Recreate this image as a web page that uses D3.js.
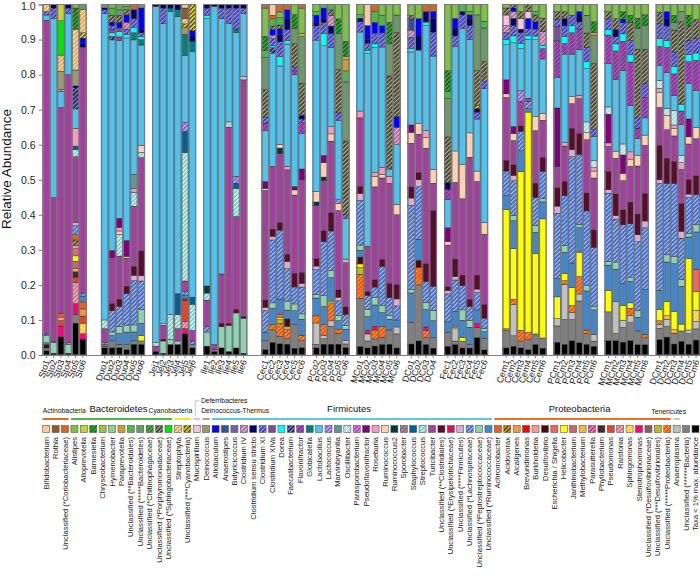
<!DOCTYPE html>
<html><head><meta charset="utf-8">
<script src="https://cdn.jsdelivr.net/npm/d3@7"></script>
<style>body{margin:0;background:#fff}svg{display:block}text{font-family:"Liberation Sans",Arial,sans-serif}</style>
</head><body><svg id="c" width="700" height="576"></svg>
<script>
const taxaKeys = ["Bif","Rot","Cor","Ali","Apr","Bar","Chr","Hym","Ppr","uBd","uBt","uCh","uPo","uSp","Stp","uCy","Muc","Dei","Alb","Ans","But","C4","Css","C11","C14","Dor","Fae","Fla","Glo","Lb","Lc","Mar","Osc","Psp","Pfl","Ros","Rum","Ru2","Spo","Sta","Stc","Tur","uCl","uEr","uFi","uLa","uPe","uRu","Ach","Acv","Alc","Bre","Bur","Des","Esc","Hel","Jan","Met","Pas","Phy","Pse","Ral","Sph","Ste","uDv","uDl","uPr","Ana","uBa","Oth"];
const taxaNames = ["Bifidobacterium","Rothia","Unclassified (*Coriobacteriaceae)","Alistipes","Alloprevotella","Barnesiella","Chryseobacterium","Hymenobacter","Paraprevotella","Unclassified (**Bacteroidales)","Unclassified (*****Bacteroidetes)","Unclassified (*Chitinophagaceae)","Unclassified (*Porphyromonadaceae)","Unclassified (*Sphingobacteriaceae)","Streptophyta","Unclassified (***Cyanobacteria)","Mucispirillum","Deinococcus","Allobaculum","Anaerostipes","Butyricicoccus","Clostridium IV","Clostridium sensu stricto","Clostridium XI","Clostridium XIVa","Dorea","Faecalibacterium","Flavonifractor","Globicatella","Lactobacillus","Lactococcus","Marvinbryantia","Oscillibacter","Parasporobacterium","Pseudoflavonifractor","Roseburia","Ruminococcus","Ruminococcus2","Sporobacter","Staphylococcus","Streptococcus","Turicibacter","Unclassified (**Clostridiales)","Unclassified (*Erysipelotrichaceae)","Unclassified (****Firmicutes)","Unclassified (*Lachnospiraceae)","Unclassified (*Peptostreptococcaceae)","Unclassified (*Ruminococcaceae)","Achromobacter","Acidovorax","Alcaligenes","Brevundimonas","Burkholderia","Desulfovibrio","Escherichia / Shigella","Helicobacter","Janthinobacterium","Methylobacterium","Parasutterella","Phyllobacterium","Pseudomonas","Ralstonia","Sphingomonas","Stenotrophomonas","Unclassified (*Desulfovibrionaceae)","Unclassified (***Desulfovibrionales)","Unclassified (*****Proteobacteria)","Anaeroplasma","Unclassified (******Bacteria)","Taxa < 1% max. abundance"];
const taxaColors = ["#fbc99d","#8c5a2e","#d9661f","#7cc243","#c6d531","#2bb52b","#9dc53a","#8bd08b","#d59b2a","#4cb848","#6a9a6a","#55b04a","#3c3c2c","#00e600","#e0a24e","#f5e51c","#f5c5dc","#9b9a6c","#0000ff","#2f4fa8","#7b5ca8","#b2649e","#00006e","#3a3ab8","#7b4da0","#00ffff","#1a1a5e","#6a3aa0","#008080","#4fc3ef","#7a5ad0","#5e9a94","#9fd5e6","#b43cc0","#800080","#f49ac1","#ffd0b4","#053a3a","#7a5a9a","#00609a","#7cc8c8","#a3409f","#5a0c30","#d8105a","#dcaad6","#3c64c8","#8ed2b4","#3f88d0","#e8621e","#e8a800","#f59a3c","#ff0000","#f49a9a","#4a0a14","#f06464","#ffff00","#cc6666","#f7b93a","#e0207e","#4a2626","#e8402a","#e06088","#ffc828","#ff007f","#8c5a5a","#baba2a","#ff4020","#c0c0c0","#808080","#000000"];
const taxaHatch = [null,null,null,null,null,"#0a4a0a",null,null,null,null,null,"#1e6e1e","#b8b890",null,"#fff0c0","#222222",null,null,null,null,null,"#f0c0e0",null,"#9a9aff",null,null,"#9898d0","#e040d0",null,null,"#d0c0ff",null,"#e8f8ff","#f090f0",null,null,null,null,"#e0a060",null,"#e0ffff",null,null,null,null,"#a8c8ff",null,null,null,"#222222",null,null,null,null,null,null,null,null,"#ff9ccc",null,null,"#ffc8d8","#fff080",null,null,null,"#ffb000",null,null,null];
const phylaNames = ["Actinobacteria","Bacteroidetes","Cyanobacteria","Deferribacteres","Deinococcus-Thermus","Firmicutes","Proteobacteria","Tenericutes"];
const phylaFirst = ["Bif","Ali","Stp","Muc","Dei","Alb","Ach","Ana"];
const phylaLast = ["Cor","uSp","uCy","Muc","Dei","uRu","uPr","Ana"];
const phylaColors = ["#e06a20","#4cb848","#f5e51c","#f5b8d0","#a8a878","#5bc5f0","#f07020","#c8c8c8"];
const yTicks = [0,0.1,0.2,0.3,0.4,0.5,0.6,0.7,0.8,0.9,1.0];

const groupNames = ["Sto","Duo","Jej","Ile","Cec","PCo","MCo","DCo","Fec","Cem","PCm","MCm","DCm"];
const sampleNums = [[1,2,3,4,5,6],[1,2,3,4,5,6],[1,2,3,4,5,6],[1,2,3,4,5,6],[1,2,3,4,5,6],[2,3,4,5,6],[1,2,3,4,5,6],[1,2,3,4],[1,2,3,4,5,6],[1,2,3,4,5,6],[1,2,3,4,5,6],[1,2,3,4,5,6],[1,2,3,4,5,6]];
const gapSlots = [0,2,1,1,2,1,1,1,1,2,1,1,1];

const stoBars = [
"Oth .012 uBa .008 Des .01 uRu .005 uPe .02 uLa .005 Tur .895 Lb .015 C11 .01 Stp .02",
"Oth .005 uPe .03 uLa .003 Tur .41 Lb .51 C11 .03 Css .01",
"Oth .05 Ste .03 Pse .015 Ach .01 Bur .01 Tur .57 C4 .005 Lb .045 Dei .05 Stp .045 uSp .095 Apr .045",
"Oth .005 uPe .025 uLa .005 Tur .765 Lb .175 C11 .015 Css .01",
"Oth .09 uBa .025 Ste .03 Ral .06 Pse .015 Phy .015 Met .01 Jan .02 Esc .02 Bur .01 Hel .015 Acv .015 Ach .015 uLa .025 uFi .01 Tur .185 Stc .02 Sta .01 Ros .05 Lb .055 Fae .06 Css .005 Dei .045 Stp .115 Bar .06 Ali .01",
"Oth .045 Ste .015 Sph .03 Pse .02 Alc .02 Ach .02 uRu .015 uLa .01 Tur .695 Css .01 Alb .015 uCy .015 Stp .065 uBt .015"];
const duoBars = [
"Oth .02 uBa .005 uRu .005 uLa .005 Tur .04 Stc .025 Lb .875 C11 .01 Css .005 uBt .01",
"Oth .02 uBa .02 uRu .015 uPe .01 uLa .06 uCl .02 Tur .13 Pfl .02 Lb .595 C14 .01 Dor .01 Fae .01 C11 .01 Alb .01 uPo .02 uBd .02 Ali .01",
"Oth .02 uBa .01 uRu .03 uPe .02 uLa .055 uCl .02 Tur .12 Stc .06 Pfl .025 Rum .01 Ros .01 Lb .495 Fla .01 Dor .015 C14 .01 Alb .015 uPo .02 uBt .015 uBd .015",
"Oth .015 uBa .015 uRu .035 uPe .02 uLa .09 uCl .02 Tur .08 Pfl .045 Rum .005 Lb .575 C4 .02 Dor .01 C11 .015 Alb .02 uPo .015 uBd .01 Ali .005",
"Oth .03 uBa .01 uRu .025 uPe .02 uLa .125 uFi .015 uCl .025 Tur .17 Stc .04 Mar .04 Ros .01 Lb .38 Glo .02 Dor .015 C11 .025 Css .025 Cor .015",
"Oth .03 uBa .01 Hel .015 uRu .035 uPe .04 uLa .08 uFi .015 uCl .07 Tur .265 Stc .015 Rum .02 Lb .285 Glo .015 Dor .01 C11 .01 Alb .06 Css .01 uBt .01"];
const jejBars = [
"Oth .01 Tur .015 Stc .01 Lb .96 Css .005",
"Oth .005 uPe .035 uCl .005 Tur .04 Stc .005 Lb .855 C11 .045 Css .01",
"Oth .03 uPe .015 Stc .07 Lb .865 Glo .01 Css .01",
"Oth .03 uPe .01 Tur .035 Stc .04 Sta .06 Lb .79 Glo .02 Css .015",
"Oth .06 Ste .015 Ral .02 Pse .06 Bre .005 uLa .01 uRu .01 Tur .03 Stc .365 Sta .06 Lc .025 Lb .19 Glo .06 Dei .02 uCy .01 Stp .015 Rot .03 Bif .01",
"Oth .02 uBa .01 uLa .01 Tur .03 Stc .075 Sta .02 Lb .7 Glo .03 Css .015 Alb .015 uCy .075"];
const ileBars = [
"Oth .025 uPe .04 uLa .015 Tur .075 Stc .02 Ru2 .02 Lb .755 Dor .01 C11 .02 Css .01",
"Oth .01 uBa .005 Tur .015 Lb .965 Css .005",
"Oth .02 uPe .06 uCl .01 Tur .14 Lb .725 C11 .03 Css .01",
"Oth .01 uPe .075 uCl .005 Tur .56 Stc .015 Lb .28 C11 .045 Css .01",
"Oth .02 uPe .1 uCl .01 Tur .265 Stc .08 Sta .015 Lc .02 Lb .41 Glo .01 C11 .06 Css .01",
"Oth .005 uPe .1 uCl .005 Tur .675 Stc .01 Lb .18 C11 .015 Css .01"];
const cecBars = [
"Oth .015 uBa .025 uRu .025 uLa .06 uFi .01 uCl .02 Tur .31 Pfl .02 Rum .005 Lb .145 Fla .02 C11 .015 uPo .08 uBt .09 uBd .02 Bar .04 Ali .08 Cor .01",
"Oth .035 uBa .035 uPr .015 uRu .045 uPe .015 uLa .175 uFi .01 uCl .02 Tur .175 Lb .315 Dor .005 Fae .015 C11 .02 C4 .01 Alb .015 uPo .01 uBd .02 Cor .01 Bif .03",
"Oth .03 uBa .02 uPr .035 uDl .01 Hel .005 Esc .01 uRu .04 uLa .185 uCl .02 Tur .185 Ru2 .015 Rum .01 Lb .21 Dor .025 C11 .04 Css .02 Alb .015 uPo .01 uBd .02 Ali .015 Cor .02",
"Oth .03 uBa .015 uPr .025 uDl .01 Des .02 uRu .025 uPe .025 uLa .09 uFi .02 uCl .02 Tur .235 Ros .01 Lb .34 Dor .01 C11 .03 Css .03 Alb .025 Cor .015",
"Oth .02 uBa .07 uRu .04 uPe .02 uLa .05 uCl .04 Tur .23 Rum .015 Pfl .01 Lb .33 Fla .01 C11 .01 uPo .07 uBt .045 Bar .04 Ali .03",
"Oth .02 uBa .02 uPr .015 uRu .045 uPe .015 uLa .075 uFi .01 uCl .03 Tur .26 Pfl .03 Lb .1 Fla .03 C11 .01 Css .01 uPo .09 uBt .13 Chr .01 Ali .07 Cor .01"];
const pcoBars = [
"Oth .02 uBa .01 Ana .06 uPr .02 uRu .05 uPe .01 uLa .07 uFi .01 uCl .02 Tur .15 Rum .03 Ru2 .01 Lb .425 C11 .04 Css .01 Alb .02 uBd .01 Ali .02",
"Oth .03 uBa .015 Ana .01 uPr .03 uRu .05 uPe .03 uLa .15 uCl .03 Tur .14 Pfl .02 Rum .04 Ru2 .01 Lb .305 Dor .035 C11 .03 Css .01 Alb .03 uBd .01",
"Oth .03 uBa .05 Ana .015 uPr .05 Hel .005 uRu .065 uPe .02 uLa .11 uCl .05 Tur .2 Ros .02 Rum .02 Lb .22 C11 .04 Css .02 C4 .03 uPo .015 uBd .015",
"Oth .03 uBa .03 uPr .01 uRu .025 uPe .015 uLa .04 uFi .01 uCl .02 Tur .22 Rum .02 Lb .22 Lc .01 C11 .02 uPo .12 uBt .1 Bar .04 Ali .04",
"Oth .02 uBa .01 Ana .01 uRu .03 uPe .01 uLa .03 uCl .02 Tur .12 Ros .01 Lb .11 C11 .01 uPo .2 uBt .16 uBd .03 Ppr .03 Chr .01 Bar .04 Ali .1"];
const mcoBars = [
"Oth .025 uBa .14 uPr .07 uDl .02 Hel .01 Des .02 uRu .02 uPe .015 uLa .13 uFi .02 uCl .02 Tur .2 Ros .02 Lb .23 C11 .03 Css .01 uBd .01 Ali .03",
"Oth .02 uBa .02 Ana .02 Ste .01 uRu .04 uPe .02 uLa .04 uCl .01 Tur .13 Lb .55 Dor .01 C11 .02 Css .01 Alb .04 Bif .06",
"Oth .025 uBa .02 uPr .025 Ste .01 uRu .06 uPe .02 uLa .03 uCl .02 Tur .26 Ros .01 Rum .03 Lb .35 Dor .01 C11 .03 Alb .03 uBd .03 Cor .02",
"Oth .03 uBa .02 uPr .03 uRu .04 uPe .02 uLa .11 uCl .02 Tur .23 Ros .02 Rum .01 Lb .34 C11 .04 Alb .02 uBd .03 Ali .03",
"Oth .03 uBa .04 uRu .03 uPe .01 uLa .05 uCl .04 Tur .28 Ros .02 Lb .02 uPo .26 uBt .09 Bar .06 Ali .05",
"Oth .02 uBa .04 Ana .02 uRu .02 uLa .04 uFi .02 uCl .04 Tur .2 Rum .03 Lb .17 C4 .05 Alb .03 uPo .24 uBt .05 Ali .03"];
const dcoBars = [
"Oth .03 uBa .06 uPe .01 uRu .08 uLa .23 uFi .02 uCl .03 Tur .12 Pfl .02 Rum .03 Lb .2 Dor .01 C11 .03 C4 .02 Ans .03 uPo .01 Ali .03",
"Oth .04 uBa .16 uPr .05 Des .02 uRu .06 uLa .15 uFi .02 uCl .02 Tur .11 Rum .03 Lb .21 Css .04 Alb .05 Ali .04",
"Oth .03 uBa .02 uPr .02 Ste .01 uRu .05 uPe .02 uLa .06 uCl .05 Tur .33 Ros .02 Rum .03 Lb .3 Dor .01 Css .03 Cor .02",
"Oth .02 uBa .03 uRu .05 uPe .03 uLa .07 uCl .22 Tur .08 Rum .04 Lb .33 C11 .07 Css .04 Alb .02 Cor .02"];
const fecBars = [
"Oth .025 uBa .04 uRu .03 uLa .08 uFi .01 uCl .01 Tur .12 Pfl .04 Rum .01 Lb .08 Fla .03 Css .02 uPo .13 uBt .11 uBd .02 Bar .06 Ali .19",
"Oth .03 uBa .01 Ana .035 Hel .005 uRu .045 uLa .09 uFi .01 uCl .05 Tur .22 Rum .09 Lb .3 C11 .03 Css .02 Alb .03 Ali .04",
"Oth .02 uBa .02 Hel .01 uRu .05 uPe .03 uLa .07 uCl .03 Tur .22 Rum .1 Lb .39 C11 .04 Css .01 uBd .02",
"Oth .02 uBa .01 uRu .05 uPe .02 uLa .04 uCl .02 Tur .41 Rum .07 Lb .27 C11 .04 Css .02 Alb .01 uBd .01 Ali .02",
"Oth .05 uBa .03 Ste .01 uRu .04 uLa .05 uFi .01 uCl .04 Tur .27 Rum .03 Lb .15 C11 .02 Css .01 uPo .1 uBt .16 uCy .01 Ali .03",
"Oth .015 uBa .035 uRu .02 uPe .01 uLa .03 uCl .04 Tur .21 Rum .035 Lb .4 C11 .02 uPo .06 uBt .1 uBd .02 Ali .05"];
const cemBars = [
"Oth .02 uBa .05 uPr .005 Hel .34 uRu .04 uLa .07 uCl .03 Tur .18 Pfl .04 Rum .01 Lb .1 Dor .015 C11 .02 C4 .02 Muc .03 uPo .02 Ali .01",
"Oth .025 uBa .03 Ana .09 uPr .015 Hel .145 uRu .08 uPe .015 uLa .1 uFi .015 uCl .03 Tur .07 Pfl .02 Rum .02 Lb .24 Dor .02 C11 .03 Css .02 C4 .02 Alb .01 uPo .01",
"Oth .02 uBa .02 uPr .03 Hel .45 uRu .06 uLa .055 uCl .015 Tur .07 Lc .03 Lb .12 Dor .015 C11 .03 Css .01 Muc .03 uPo .02 Ali .02",
"Oth .015 uBa .03 uPr .02 Hel .635 uRu .01 uLa .02 Tur .01 Lb .17 Dor .01 C11 .02 Alb .03 Muc .02 uPo .02",
"Oth .03 uBa .03 Hel .23 uRu .06 uPe .02 uLa .08 uCl .04 Tur .15 Rum .04 Lb .22 Dor .01 C11 .02 Alb .02 uPo .02 uBd .01 Ali .02",
"Oth .02 uBa .03 Hel .35 uRu .05 uPe .01 uLa .08 uCl .04 Tur .11 Rum .02 Lb .16 Fla .03 Dor .01 C4 .04 uPo .04 Ali .04"];
const pcmBars = [
"Oth .035 uBa .045 Ana .02 Hel .06 uRu .05 uLa .18 uFi .02 uCl .05 Tur .06 Pfl .16 Lb .085 Fla .1 C14 .04 C11 .02 uPo .02 Ali .02",
"Oth .03 uBa .07 Ana .1 uPr .01 Hel .02 uRu .06 uPe .02 uLa .14 uCl .04 Tur .1 Ros .01 Lb .25 Fla .03 Dor .02 C11 .03 Css .02 uPo .02 Ali .02",
"Oth .04 uBa .06 Ana .02 uPr .02 Hel .05 uRu .07 uLa .3 uFi .02 uCl .06 Tur .07 Rum .02 Lb .12 Fla .06 Dor .02 C11 .03 Ali .03",
"Oth .035 uBa .12 Ana .02 uPr .05 Hel .07 uRu .07 uPe .01 uLa .2 uCl .06 Tur .1 Ros .01 Lb .13 Fla .06 C11 .02 Css .02 Alb .01 Ali .02",
"Oth .03 uBa .03 uPr .01 uRu .11 uPe .015 uLa .21 uCl .05 Tur .15 Rum .02 Lb .15 Dor .02 C11 .04 Osc .03 uPo .04 uBt .05 Ali .03",
"Oth .025 uBa .015 Ana .02 uRu .07 uPe .01 uLa .17 uCl .05 Tur .15 Ros .01 Rum .02 Osc .02 Lb .07 C11 .02 uPo .19 uBt .08 Ppr .01 Bar .03 Ali .05"];
const mcmBars = [
"Oth .04 uBa .08 Hel .06 uRu .07 uPe .01 uLa .19 uFi .01 uCl .05 Tur .07 Ros .01 Pfl .08 Osc .02 Lb .12 Fla .08 Dor .015 C11 .03 uPo .02 Ali .02",
"Oth .04 uBa .02 Ana .09 uRu .09 uPe .02 uLa .12 uFi .01 uCl .06 Tur .1 Rum .02 Lb .2 Fla .08 Dor .02 C11 .02 Css .02 uPo .03 Ali .04",
"Oth .035 uBa .04 Ana .02 Hel .04 uRu .06 uLa .16 uCl .04 Tur .08 Pfl .05 Rum .02 Osc .03 Lb .2 Fla .08 Dor .02 C11 .03 Alb .01 Bar .02 Ali .02",
"Oth .04 uBa .05 Ana .02 uPr .02 Hel .015 uRu .06 uPe .01 uLa .15 uCl .06 Tur .1 Ros .02 Rum .02 Lb .13 Fla .12 Dor .02 C11 .04 uPo .05 Bar .02 Ali .03",
"Oth .03 uBa .04 uRu .04 uPe .02 uLa .2 uFi .02 uCl .06 Tur .14 Rum .03 Lb .05 Fla .03 C11 .03 uPo .2 uBt .06 Bar .03 Ali .04",
"Oth .03 uBa .02 uPr .01 uRu .13 uLa .18 uFi .02 uCl .08 Tur .14 Rum .03 Lb .05 Fla .06 C11 .04 uPo .1 uBt .07 Bar .03 Ali .03"];
const dcmBars = [
"Oth .04 uBa .03 Ana .01 uPr .01 Hel .03 uRu .05 uLa .28 uFi .01 uCl .09 Tur .1 Ros .01 Rum .04 Osc .02 Lb .04 Fla .05 Dor .02 C11 .04 uPo .03 Ali .02",
"Oth .05 uBa .03 Ana .02 Hel .04 Met .01 uRu .11 uPe .02 uLa .2 uCl .07 Tur .08 Rum .04 Osc .02 Lb .1 Fla .07 Dor .02 C11 .04 Css .02 Alb .02 Ali .02",
"Oth .03 uBa .03 Hel .05 Met .01 uRu .13 uPe .02 uLa .2 uCl .06 Tur .07 Ros .01 Rum .02 Osc .04 Lb .04 Fla .06 Dor .02 C11 .04 uPo .06 uBt .02 Bar .02 Ali .03",
"Oth .04 uBa .03 Hel .02 uRu .11 uPe .02 uLa .12 uFi .02 uCl .08 Tur .1 Ros .02 Osc .02 Lb .09 Fla .04 Dor .02 uPo .24 uBt .03 Ali .02",
"Oth .03 uBa .03 Ana .01 Hel .2 uRu .06 uPe .01 uLa .1 uFi .01 uCl .04 Tur .1 Pfl .05 Rum .02 Lb .1 Fla .06 Dor .02 C11 .04 uPo .04 Bar .03 Ali .03",
"Oth .04 uBa .03 Ana .02 Sph .03 Esc .06 Hel .05 uRu .1 uPe .02 uLa .08 uCl .05 Tur .1 Rum .03 Lb .1 Fla .08 Dor .02 C11 .04 uPo .05 Ali .04"];
const groupBars = [stoBars,duoBars,jejBars,ileBars,cecBars,pcoBars,mcoBars,dcoBars,fecBars,cemBars,pcmBars,mcmBars,dcmBars];

// ---- build table ----
const rows = [];
const domain = [];
groupNames.forEach((g, gi) => {
  for (let k = 0; k < gapSlots[gi]; k++) domain.push("gap" + gi + "_" + k);
  groupBars[gi].forEach((str, bi) => {
    const name = g + sampleNums[gi][bi];
    const row = {sample: name};
    taxaKeys.forEach(t => row[t] = 0);
    const parts = str.trim().split(/\s+/);
    for (let i = 0; i < parts.length; i += 2) row[parts[i]] += +parts[i + 1];
    rows.push(row);
    domain.push(name);
  });
});

const svg = d3.select("#c");
const defs = svg.append("defs");
taxaKeys.forEach((k, i) => {
  if (!taxaHatch[i]) return;
  const p = defs.append("pattern").attr("id", "p_" + k).attr("patternUnits", "userSpaceOnUse")
    .attr("width", 3).attr("height", 3).attr("patternTransform", "rotate(45)");
  p.append("rect").attr("width", 3).attr("height", 3).attr("fill", taxaColors[i]);
  p.append("rect").attr("width", 1.2).attr("height", 3).attr("fill", taxaHatch[i]);
});
const fillOf = k => { const i = taxaKeys.indexOf(k); return taxaHatch[i] ? "url(#p_" + k + ")" : taxaColors[i]; };

const x = d3.scaleBand().domain(domain).range([42.7, 699.7]).padding(0);
const y = d3.scaleLinear().domain([0, 1]).range([355, 4.5]);

const stack = d3.stack().keys(taxaKeys.slice().reverse()).offset(d3.stackOffsetExpand);
const series = stack(rows);

const gBars = svg.append("g");
series.forEach(s => {
  gBars.append("g").attr("fill", fillOf(s.key))
    .selectAll("rect").data(s.filter(d => d[1] - d[0] > 0)).join("rect")
    .attr("x", d => x(d.data.sample)).attr("width", x.bandwidth())
    .attr("y", d => y(d[1])).attr("height", d => y(d[0]) - y(d[1]))
    .attr("stroke", "#1a1a1a").attr("stroke-width", 0.4);
});
gBars.append("g").selectAll("rect").data(rows).join("rect")
  .attr("x", d => x(d.sample) + 0.5).attr("width", x.bandwidth() - 1)
  .attr("y", y(1)).attr("height", y(0) - y(1))
  .attr("fill", "none").attr("stroke", "#7a7a7a").attr("stroke-width", 1);

// axes
const yAxis = svg.append("g").attr("transform", "translate(42.7,0)")
  .call(d3.axisLeft(y).tickValues(yTicks).tickFormat(d3.format(".1f")).tickSize(4).tickPadding(3));
yAxis.selectAll("path,line").attr("stroke", "#808080");
yAxis.selectAll("text").attr("font-size", 10.5).attr("fill", "#222").attr("font-family", "Liberation Sans, Arial, sans-serif")
  .attr("dy", d => d === 1 ? "0.45em" : "0.32em");

const xAxis = svg.append("g").attr("transform", "translate(0,355)")
  .call(d3.axisBottom(x).tickValues(rows.map(r => r.sample)).tickSize(3).tickSizeOuter(0));
xAxis.select("path").attr("stroke", "#808080");
xAxis.selectAll("line").attr("stroke", "#808080");
xAxis.selectAll("text").attr("font-size", 9).attr("fill", "#222")
  .attr("font-family", "Liberation Sans, Arial, sans-serif")
  .attr("text-anchor", "end").attr("transform", "translate(0.5,5) rotate(-72)")
  .attr("dy", "0.35em").attr("y", 0).attr("x", 0);

svg.append("text").attr("transform", "translate(11,169) rotate(-90)")
  .attr("text-anchor", "middle").attr("font-size", 13.5).attr("fill", "#111").text("Relative Abundance");

// legend
const lx = d3.scaleBand().domain(taxaKeys).range([42.7, 42.7 + 70 * 9.41]).padding(0);
const lg = svg.append("g");
lg.selectAll("rect").data(taxaKeys).join("rect")
  .attr("x", k => lx(k)).attr("y", 425.5).attr("width", 7).attr("height", 7)
  .attr("fill", k => fillOf(k)).attr("stroke", "#555").attr("stroke-width", 0.6);
lg.selectAll("text").data(taxaKeys).join("text")
  .attr("transform", k => `translate(${lx(k) + 3.4},437) rotate(-90)`)
  .attr("dy", "0.35em").attr("text-anchor", "end").attr("font-size", 7.6).attr("fill", "#222")
  .text((k, i) => taxaNames[i]);

phylaNames.forEach((p, i) => {
  const x0 = lx(phylaFirst[i]), x1 = lx(phylaLast[i]) + 7;
  lg.append("line").attr("x1", x0).attr("x2", x1).attr("y1", 419).attr("y2", 419)
    .attr("stroke", phylaColors[i]).attr("stroke-width", 2);
  const t = lg.append("text").attr("fill", "#111").text(p);
  if (p === "Bacteroidetes" || p === "Firmicutes" || p === "Proteobacteria") {
    t.attr("x", (x0 + x1) / 2 - 3).attr("y", 412).attr("font-size", 9.5).attr("text-anchor", "middle");
  } else if (p === "Actinobacteria") {
    t.attr("x", x0).attr("y", 413).attr("font-size", 6.8);
  } else if (p === "Cyanobacteria") {
    t.attr("x", x1 + 1.5).attr("y", 413).attr("font-size", 6.8).attr("text-anchor", "end");
  } else if (p === "Deinococcus-Thermus") {
    t.attr("x", x0 - 1.5).attr("y", 413).attr("font-size", 6.8);
  } else if (p === "Deferribacteres") {
    const cx = x0 + 2.2;
    lg.append("path").attr("d", `M${cx},416 V400.5 H${cx + 4}`).attr("fill", "none")
      .attr("stroke", phylaColors[i]).attr("stroke-width", 1);
    t.attr("x", cx + 5.5).attr("y", 403).attr("font-size", 6.8);
  } else {
    t.attr("x", (x0 + x1) / 2 - 8).attr("y", 414).attr("font-size", 6.8).attr("text-anchor", "middle");
  }
});
</script></body></html>
